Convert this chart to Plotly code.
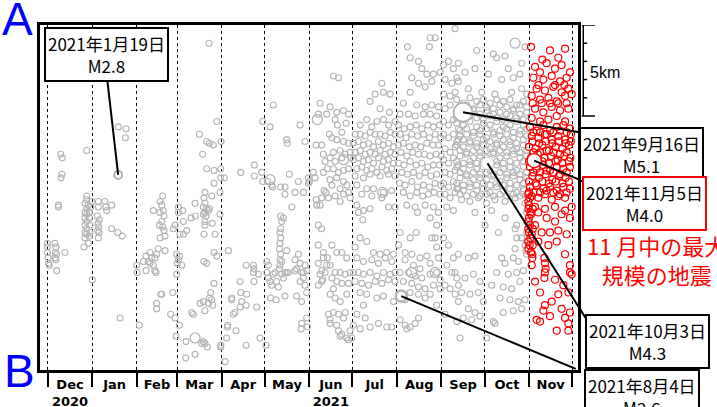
import plotly.graph_objects as go

# x = days since 2020-12-01, y = distance from A along section A-B (km)
month_starts = [0, 31, 62, 90, 121, 151, 182, 212, 243, 274, 304, 335, 365]
month_mids = [15.5, 46.5, 76, 105.5, 136, 166.5, 197, 227.5, 258.5, 289, 319.5, 350]
month_labels = ["Dec<br>2020", "Jan", "Feb", "Mar", "Apr", "May", "Jun<br>2021",
                "Jul", "Aug", "Sep", "Oct", "Nov"]

dec = [(9.0,7.1),(10.1,7.3),(9.9,8.2),(9.2,8.4),(7.4,9.9),(7.4,10.0),(27.1,6.9),
       (-0.3,12.0),(-0.3,12.2),(-0.3,12.5),(0.2,12.8),(0.6,13.1),(1.1,13.2),(5.0,12.0),(5.7,12.2),
       (5.3,12.5),(6.2,12.6),(5.0,12.8),(5.7,12.9),(12.0,12.5),(6.2,13.5),
       (27.1,9.4),(27.1,9.6),(25.9,9.8),(28.2,9.9),(27.1,10.1),(25.9,10.3),(28.9,10.3),(27.1,10.4),
       (25.9,10.6),(28.9,10.6),(27.1,10.8),(25.9,11.0),(29.4,11.0),(27.1,11.2),(25.9,11.4),(29.4,11.4),
       (27.1,11.5),(25.9,11.7),(28.9,11.6),(28.2,12.0),(25.2,12.2),(30.6,9.7),(29.9,10.0),(31.0,14.0)]

jan = [(49.1,5.6),(54.5,5.7),(54.0,6.2),(35.2,9.7),(39.8,9.7),(44.5,9.9),(35.2,10.0),(40.5,10.0),
       (41.0,10.2),(34.5,10.5),(35.9,10.7),(35.0,10.9),(35.4,11.1),(34.7,11.3),(35.7,11.4),(35.2,11.7),
       (44.5,11.2),(48.7,11.4),(51.9,11.6),(50.3,16.1)]

feb = [(73.5,10.2),(78.1,9.7),(80.0,9.4),(79.3,9.9),(80.4,10.2),(78.1,10.3),(80.9,10.5),(79.3,10.8),
       (80.0,11.1),(77.7,11.0),(80.9,11.3),(78.1,11.7),(81.6,11.6),(81.6,12.4),(61.9,13.2),(62.3,13.6),
       (68.4,12.7),(70.0,13.0),(71.2,12.5),(72.3,12.8),(73.5,13.2),(68.4,13.5),(74.6,13.5),(75.8,12.6),
       (76.9,12.3),(74.6,12.8),(71.2,13.1),(66.5,13.0),(75.3,13.6),(78.6,14.8),(79.3,14.8),(75.8,15.3),
       (75.8,15.6),(63.7,16.5),(85.5,15.9),(87.0,14.7)]

mar = [(90.9,10.0),(93.9,10.2),(90.9,10.3),(94.4,10.8),(96.7,11.3),(88.6,11.0),(87.4,11.2),(94.4,11.5),
       (92.0,11.5),(89.7,12.6),(90.9,12.9),(90.2,13.1),(93.2,13.2),(89.7,13.7),(91.6,12.7),(88.6,16.1),
       (91.6,16.5),(89.3,17.1),(96.2,17.4),(96.0,18.3),
       (112.2,1.0),(117.6,5.3),(105.5,6.0),(110.6,6.4),(112.5,6.5),(115.2,6.6),(120.6,6.4),(107.8,7.1),
       (110.6,7.9),(115.7,8.0),(120.3,7.9),(120.3,8.4),(115.7,8.7),(119.9,9.2),(114.1,9.4),(102.5,9.8),
       (99.7,10.6),(102.7,10.5),(109.4,9.2),(108.7,9.5),(109.4,9.8),(108.3,10.0),(110.6,10.1),(109.4,10.3),
       (111.8,10.2),(108.3,10.4),(110.1,10.5),(112.5,10.1),(109.4,10.8),(109.4,11.0),(114.5,10.9),
       (108.7,11.5),(116.4,11.5),(119.9,10.4),(115.7,12.5),(117.6,12.7),(108.7,13.0),(110.6,13.1),
       (115.7,14.2),(113.4,14.7),(112.5,15.0),(114.1,15.1),(114.8,15.4),(111.8,15.3),(109.4,15.7),
       (108.3,15.2),(106.0,15.3),(100.2,15.8),(101.3,15.9),(108.3,17.4),(109.4,17.5),(111.1,17.7),
       (107.1,17.5),(102.5,18.1),(120.4,17.6),(120.4,17.7)]

apr = [(122.9,8.4),(123.4,18.5),(149.6,5.3),(143.8,7.7),(148.9,8.1),(143.8,8.3),(134.3,8.1),(149.6,8.6),
       (138.0,13.2),(143.1,13.2),(143.5,13.4),(143.1,13.6),(146.6,13.7),(143.5,14.1),(133.8,14.1),
       (125.7,12.4),(128.0,15.0),(128.0,15.1),(134.3,14.7),(135.0,15.2),(133.8,15.5),(138.4,14.8),
       (138.0,15.4),(145.4,15.5),(130.3,15.8),(129.2,15.9),(125.2,16.5),(125.0,16.6),(131.0,16.8),
       (124.5,17.2),(138.0,17.6),(147.7,17.2)]

may = [(151.9,17.6),(157.0,4.4),(154.7,5.6),(152.8,8.6),(155.8,8.8),(156.5,8.9),(162.1,8.9),
       (165.1,8.9),(165.1,9.3),(169.8,10.0),(168.1,8.2),(174.4,8.6),(175.6,5.5),(172.1,9.2),(177.9,9.2),
       (179.0,6.4),(181.4,8.4),(181.4,8.7),(166.3,6.3),(166.7,6.5),
       (162.1,10.5),(164.0,10.6),(162.8,10.8),(162.1,11.2),(161.6,11.4),(162.1,11.7),(161.6,12.0),
       (161.2,12.3),(162.1,12.6),(161.6,12.9),(162.8,13.0),(161.6,13.2),(161.2,13.4),(166.3,12.4),
       (152.4,13.0),(153.5,13.2),(152.4,13.6),(153.5,13.9),(154.7,14.1),(157.0,13.7),(158.2,13.6),
       (155.8,14.3),(159.3,14.1),(162.8,13.7),(164.0,13.9),(166.3,13.6),(167.4,13.6),(165.1,13.6),
       (160.5,14.4),(155.1,15.0),(158.9,15.1),(165.1,14.9),
       (172.1,12.9),(174.4,12.6),(175.6,13.1),(176.7,13.6),(172.1,13.5),(173.2,13.4),(177.9,13.6),
       (179.0,13.2),(180.2,13.5),(177.9,13.9),(175.6,14.1),(179.0,14.3),(180.2,14.7),(173.2,14.9),
       (176.7,15.2),(176.7,16.4),(176.3,16.7),(180.2,16.1),(180.7,16.6)]

jun = [(189.5,4.3),(188.3,4.9),(194.1,4.9),(196.0,6.0),(186.7,6.6),(190.6,6.6),(191.8,7.1),
       (193.0,7.5),(194.6,7.9),(196.4,8.5),(184.8,8.1),(186.0,8.4),(182.1,8.6),(191.8,8.1),(190.6,9.5),
       (186.7,9.6),(189.5,9.9),(187.2,9.9),(188.3,11.0),(190.6,11.2),(193.7,9.2),(195.3,9.5),(192.3,9.1),
       (188.3,12.1),(191.8,12.5),(191.8,12.8),(188.3,13.1),(190.6,13.5),(194.1,13.2),(193.0,13.6),
       (189.5,13.7),(191.3,14.0),(188.3,14.3),(190.6,14.1),(194.6,12.8),(195.3,15.9),(196.4,16.2),
       (198.8,2.8),(202.3,2.9),(196.5,4.5),(201.1,4.8),(205.8,4.7),(209.3,4.9),(200.0,5.2),(201.6,5.5),
       (207.6,5.4),(204.6,5.9),
       (197.7,6.2),(201.1,6.3),(205.8,6.4),(209.3,6.5),(198.8,7.0),(203.5,6.9),(207.0,7.1),(210.4,7.0),
       (196.5,7.3),(200.0,7.5),(204.6,7.3),(210.9,7.3),(198.8,7.9),(202.3,8.1),(205.8,8.0),
       (209.3,7.9),(201.1,8.4),(205.8,8.6),(197.7,8.8),(203.5,9.0),(208.1,8.8),(200.0,9.4),(205.8,9.3),
       (209.3,9.2),(203.5,9.7),(210.4,9.5),
       (197.7,12.1),(201.1,12.5),(204.6,12.5),(208.1,12.8),(196.5,13.2),(200.0,13.6),(203.5,13.6),
       (207.0,13.7),(210.4,13.6),(197.7,13.9),(201.1,14.1),(198.8,14.5),(204.6,14.2),(209.3,14.2),
       (196.5,14.8),(200.0,15.0),(203.5,15.2),(208.1,14.8),(198.8,15.8),(202.3,15.9),(207.0,15.8),
       (196.5,16.4),(201.1,16.5),(204.6,17.0),(208.1,17.2),(210.4,16.8),(205.8,16.1),(202.3,16.8),
       (203.5,17.1),(209.3,17.3),(211.6,17.2)]

jul = [(232.5,3.2),(227.8,3.8),(233.6,3.7),(238.3,3.8),(224.3,4.2),(231.3,4.6),(237.8,4.8),(222.0,5.2),
       (229.0,5.3),(233.6,5.2),(217.4,5.5),(225.5,5.6),(237.1,5.5),(241.7,5.3),
       (213.9,6.0),(217.4,6.0),(220.9,6.1),(224.3,5.9),(227.8,6.0),(231.3,6.0),(234.8,6.1),(238.3,5.9),(241.7,6.0),
       (212.7,6.5),(216.2,6.4),(219.7,6.6),(223.2,6.5),(226.7,6.7),(230.1,6.4),(233.6,6.6),(237.1,6.5),(240.6,6.7),
       (213.9,7.0),(217.4,6.9),(220.9,7.1),(224.3,7.0),(227.8,7.1),(231.3,6.9),(234.8,7.1),(238.3,7.0),(241.7,7.1),
       (212.7,7.4),(216.2,7.3),(219.7,7.5),(223.2,7.4),(226.7,7.6),(230.1,7.3),(233.6,7.5),(237.1,7.4),(240.6,7.6),
       (215.1,7.9),(218.5,7.8),(222.0,8.0),(225.5,7.9),(229.0,8.1),(232.5,7.8),(235.9,8.0),(239.4,7.9),
       (213.9,8.3),(219.7,8.4),(224.3,8.2),(231.3,8.3),(237.1,8.2),(241.7,8.3),
       (215.1,8.8),(222.0,9.0),(226.7,9.0),(233.6,9.2),(239.4,9.1),(218.5,9.3),(225.5,9.4),(232.5,9.5),
       (237.1,10.0),(215.1,9.9),(219.7,10.2),(216.2,10.3),(219.2,10.7),(224.3,10.1),(241.7,10.0),
       (217.4,11.7),(222.0,11.9),(213.9,12.2),(226.7,12.5),(231.3,12.6),(235.9,12.5),(240.6,12.6),
       (215.1,12.8),(219.7,13.0),(225.5,12.9),(230.1,13.1),(234.8,12.8),(239.4,13.0),(212.7,13.6),
       (216.2,13.6),(219.7,13.7),(224.3,13.6),(229.0,13.8),(233.6,13.6),(238.3,13.7),(241.7,13.6),
       (213.9,14.1),(218.5,14.2),(223.2,14.3),(227.8,14.1),(232.5,14.2),(237.1,14.0),(241.7,14.1),
       (217.4,14.7),(222.0,14.8),(229.0,15.0),(233.6,14.9),(240.6,15.2),(219.7,15.4),(215.1,15.9),
       (220.9,16.1),(212.7,16.5),(217.4,16.7),(224.3,16.6),(230.1,16.4),(235.9,16.6),(239.4,16.6)]

aug = [(250.3,1.2),(252.2,1.8),(258.0,2.0),(266.1,0.7),(269.6,0.7),(265.6,1.2),(260.3,2.4),(263.8,2.7),
       (268.4,2.7),(273.1,2.6),(253.3,2.9),(258.0,3.2),(262.6,3.4),(267.3,3.1),(252.2,3.7),(247.5,4.3),
       (256.8,4.4),(262.6,4.5),(267.3,4.4),(271.9,4.5),(245.2,4.9),(251.0,4.9),(255.7,5.0),(261.5,4.9),
       (266.1,4.9),(270.7,5.0),
       (244.1,5.5),(248.0,5.7),(252.2,5.6),(256.4,5.5),(260.3,5.7),(264.5,5.5),(268.4,5.6),(272.6,5.5),
       (245.2,6.0),(249.4,6.2),(253.3,6.0),(257.3,6.1),(261.5,6.0),(265.6,6.2),(269.6,6.0),(273.5,6.2),
       (244.1,6.6),(247.5,6.5),(251.7,6.7),(255.7,6.6),(259.6,6.7),(263.8,6.5),(268.0,6.6),(271.9,6.6),
       (245.7,7.0),(249.9,7.2),(254.0,7.0),(258.0,7.1),(262.2,7.1),(266.1,7.2),(270.3,7.1),(273.8,7.2),
       (244.1,7.6),(248.0,7.7),(252.2,7.5),(256.4,7.7),(260.3,7.6),(264.5,7.8),(268.4,7.7),(272.6,7.7),
       (246.4,8.1),(250.3,8.2),(254.5,8.1),(258.7,8.3),(262.6,8.1),(266.6,8.3),(270.7,8.2),
       (244.8,8.7),(248.7,8.8),(253.3,8.6),(257.3,8.9),(261.5,8.8),(265.6,8.9),(269.6,8.7),(273.5,8.8),
       (247.5,9.2),(252.2,9.4),(256.8,9.2),(261.0,9.4),(264.9,9.3),(268.9,9.2),(273.1,9.3),
       (249.9,9.9),(255.7,10.0),(262.6,9.9),(268.4,10.0),(271.9,10.3),(257.3,10.3),(266.1,10.6),
       (270.7,11.0),(267.3,11.7),(256.4,11.4),(252.2,11.7),(245.2,11.4),
       (244.1,12.1),(248.7,12.5),(253.3,12.6),(259.1,12.8),(263.8,12.7),(269.6,11.7),(270.7,12.2),
       (248.7,12.9),(254.5,13.2),(259.1,13.4),(266.1,13.1),(271.9,12.8),(245.2,13.6),(251.0,13.6),
       (255.7,13.8),(260.3,13.9),(266.1,13.7),(270.7,13.6),(273.1,14.0),(247.5,14.1),(253.3,14.2),
       (258.0,14.4),(262.6,14.5),(268.4,14.3),(273.1,14.5),(252.2,14.7),(258.0,14.8),(266.1,14.8),
       (248.7,15.1),(262.6,15.0),(270.7,15.4),(245.2,16.2),(248.7,16.5),(252.2,16.6),(255.7,16.4),
       (258.0,16.1),(249.9,16.7)]

sep_oct = [(275.4,2.2),(278.9,2.0),(282.3,2.4),(285.8,2.1),(276.5,3.0),(281.2,3.2),(284.7,2.9),
       (275.4,3.8),(280.0,3.9),(283.5,3.7),(276.5,4.6),(280.0,4.4),(275.4,5.3),(278.9,5.5),(282.3,5.2),
       (285.8,5.7),(275.4,6.0),(278.9,6.2),(282.3,6.0),(285.8,6.3),(276.5,6.8),(280.0,7.0),(283.5,6.7),
       (275.4,7.4),(278.9,7.6),(282.3,7.3),(285.8,7.7),(276.5,8.1),(280.0,8.2),(283.5,8.0),(275.4,8.7),
       (278.9,8.9),(282.3,8.6),(285.8,9.0),(276.5,9.3),(280.0,9.5),(283.5,9.2),(277.7,10.0),(282.3,10.2),
       (275.4,11.7),(278.9,12.1),(282.3,12.8),(277.7,13.2),(281.2,13.6),(284.7,13.9),(276.5,14.3),
       (280.0,14.5),(283.5,14.8),(285.8,14.3),(276.5,15.9),(284.7,16.3),
       (283.4,0.2),(298.5,1.4),(310.1,1.6),(312.4,1.8),(318.2,1.7),(320.5,2.4),(329.8,2.1),
       (332.1,1.2),(328.6,2.7),(324.0,2.9),(315.9,3.0),(306.6,2.7),(297.3,2.4),(290.4,2.6),(285.7,3.1),
       (292.7,3.5),(302.0,3.7),(311.2,3.8),(322.8,3.7),(329.8,3.5),(333.3,3.8),
       (284.6,4.1),(289.2,4.3),(293.8,4.0),(298.5,4.2),(303.1,4.1),(307.8,4.3),(312.4,4.1),(317.0,4.2),(321.7,4.1),(326.3,4.4),(331.0,4.2),
       (286.9,4.5),(291.5,4.4),(296.2,4.6),(300.8,4.4),(305.4,4.5),(310.1,4.6),(314.7,4.4),(319.4,4.5),(324.0,4.6),(328.6,4.4),(333.3,4.5),
       (286.9,4.8),(291.5,4.9),(296.2,4.7),(300.8,4.9),(305.4,4.7),(310.1,4.9),(314.7,4.8),(319.4,4.9),(324.0,4.7),(328.6,4.9),(333.3,4.8),
       (284.6,5.1),(289.2,5.2),(293.8,5.0),(298.5,5.1),(303.1,5.2),(307.8,5.0),(312.4,5.1),(317.0,5.2),(321.7,5.0),(326.3,5.1),(331.0,5.2),
       (284.6,5.4),(289.2,5.5),(293.8,5.3),(298.5,5.6),(303.1,5.4),(307.8,5.5),(312.4,5.3),(317.0,5.6),(321.7,5.5),(326.3,5.3),(331.0,5.5),
       (286.9,5.8),(291.5,5.7),(296.2,5.9),(300.8,5.8),(305.4,5.7),(310.1,5.9),(314.7,5.8),(319.4,5.7),(324.0,5.9),(328.6,5.8),(333.3,5.7),
       (286.9,6.1),(291.5,6.0),(296.2,6.1),(300.8,6.0),(305.4,6.2),(310.1,6.0),(314.7,6.1),(319.4,6.0),(324.0,6.2),(328.6,6.0),(333.3,6.1),
       (284.6,6.4),(289.2,6.3),(293.8,6.4),(298.5,6.5),(303.1,6.3),(307.8,6.4),(312.4,6.5),(317.0,6.3),(321.7,6.4),(326.3,6.5),(331.0,6.3),
       (284.6,6.6),(289.2,6.7),(293.8,6.5),(298.5,6.7),(303.1,6.6),(307.8,6.8),(312.4,6.6),(317.0,6.7),(321.7,6.6),(326.3,6.8),(331.0,6.6),
       (286.9,6.9),(291.5,7.0),(296.2,6.9),(300.8,7.0),(305.4,6.9),(310.1,7.0),(314.7,6.9),(319.4,7.0),(324.0,6.9),(328.6,7.0),(333.3,6.9),
       (286.9,7.2),(291.5,7.1),(296.2,7.3),(300.8,7.2),(305.4,7.3),(310.1,7.1),(314.7,7.3),(319.4,7.2),(324.0,7.1),(328.6,7.3),(333.3,7.2),
       (284.6,7.5),(289.2,7.6),(293.8,7.5),(298.5,7.6),(303.1,7.5),(307.8,7.6),(312.4,7.5),(317.0,7.6),(321.7,7.5),(326.3,7.6),(331.0,7.5),
       (284.6,7.8),(289.2,7.9),(293.8,7.7),(298.5,7.9),(303.1,7.8),(307.8,8.0),(312.4,7.7),(317.0,7.9),(321.7,7.8),(326.3,8.0),(331.0,7.8),
       (286.9,8.1),(291.5,8.2),(296.2,8.1),(300.8,8.2),(305.4,8.1),(310.1,8.2),(314.7,8.1),(319.4,8.2),(324.0,8.1),(328.6,8.2),(333.3,8.1),
       (286.9,8.4),(291.5,8.3),(296.2,8.5),(300.8,8.4),(305.4,8.5),(310.1,8.3),(314.7,8.6),(319.4,8.4),(324.0,8.3),(328.6,8.5),(333.3,8.4),
       (284.6,8.7),(289.2,8.8),(293.8,8.7),(298.5,8.8),(303.1,8.7),(307.8,8.8),(312.4,8.7),(317.0,8.8),(321.7,8.7),(326.3,8.8),(331.0,8.7),
       (284.6,9.0),(289.2,9.1),(293.8,8.9),(298.5,9.1),(303.1,9.0),(307.8,9.2),(312.4,8.9),(317.0,9.1),(321.7,9.0),(326.3,9.2),(331.0,9.0),
       (286.9,9.3),(291.5,9.4),(296.2,9.3),(300.8,9.4),(305.4,9.3),(310.1,9.4),(314.7,9.3),(319.4,9.4),(324.0,9.3),(328.6,9.4),(333.3,9.3),
       (288.0,9.6),(293.8,9.7),(299.6,9.5),(305.4,9.8),(311.2,9.6),(318.2,9.7),(325.2,9.5),(332.1,9.8),
       (297.3,10.3),(308.9,10.2),(318.2,10.6),(326.3,11.0),(304.3,11.0),(313.6,11.4),(329.8,11.7),
       (285.7,12.6),(292.7,12.8),(297.3,12.7),(283.4,13.6),(290.4,13.9),(296.2,13.7),(300.8,14.1),
       (288.0,14.7),(293.8,14.8),(299.6,14.7),(303.1,15.2),(285.7,15.2),(292.7,15.6),(297.3,15.8),
       (289.2,16.1),(295.0,16.2),(300.8,16.0),(286.9,17.2),(305.4,17.2),(310.1,16.3),(311.2,16.4),
       (315.9,12.8),(318.2,13.1),(324.0,12.8),(327.5,13.0),(312.4,13.6),(320.5,13.7),(326.3,13.6),
       (331.0,13.5),(308.9,14.3),(317.0,14.4),(322.8,14.5),(328.6,14.1),(314.7,15.0),(321.7,15.1),
       (327.5,15.2),(332.1,15.1),(317.0,15.8),(324.0,15.7),(329.8,15.6),(333.3,12.6),(325.2,11.2),
       (326.3,11.7),(325.2,12.3),(332.1,12.1),(333.3,10.3),(333.3,10.8),(333.3,11.4),(333.3,11.9),(332.8,12.4)]

nov = [(336.3,1.2),(349.5,1.4),(355.3,1.8),(360.0,1.3),(344.2,1.9),(339.1,2.3),(342.6,2.6),(347.2,2.1),
       (353.0,2.4),(357.6,2.2),(363.4,2.6),(337.9,2.9),(344.9,3.0),(350.7,2.8),(356.5,3.1),(361.1,2.9),
       (340.2,3.5),(346.0,3.6),(351.8,3.4),(357.6,3.7),(362.3,3.5),(336.8,3.9),(342.6,4.1),(348.4,4.0),
       (354.2,4.2),(360.0,3.9),(364.6,3.8),(339.1,4.6),(344.9,4.8),(350.7,4.5),(356.5,4.7),(362.3,4.6),
       (336.8,5.1),(342.6,5.3),(348.4,5.2),(354.2,5.0),(360.0,5.3),(337.5,4.3),(343.7,4.3),(349.5,4.3),
       (355.3,4.3),(361.1,4.3),(341.4,3.3),(353.0,3.3),(359.5,3.3),
       (335.6,5.6),(340.2,5.8),(344.9,5.5),(349.5,5.8),(354.2,5.6),(358.8,5.5),(363.4,5.7),
       (338.0,5.9),(342.6,5.9),(347.2,6.0),(351.8,5.9),(356.5,5.8),(361.1,5.9),
       (336.8,6.1),(341.4,6.2),(346.0,6.0),(350.7,6.3),(355.3,6.1),(360.0,6.3),(364.1,6.0),
       (337.2,6.4),(341.9,6.5),(346.5,6.4),(351.1,6.5),(355.8,6.4),(360.4,6.5),(364.0,6.4),
       (334.9,6.7),(339.5,6.8),(344.2,6.6),(348.8,6.9),(353.5,6.7),(358.1,6.8),(362.7,6.6),
       (338.0,7.0),(342.6,7.0),(347.2,6.9),(351.8,7.0),(356.5,7.1),(361.1,7.0),
       (336.3,7.3),(340.9,7.1),(345.6,7.3),(350.2,7.2),(354.9,7.4),(359.5,7.2),(363.7,7.3),
       (334.9,7.5),(339.5,7.6),(344.2,7.5),(348.8,7.6),(353.5,7.5),(358.1,7.6),(362.7,7.5),
       (335.6,7.8),(340.2,7.9),(344.9,7.7),(349.5,8.0),(354.2,7.8),(358.8,7.9),(363.4,7.8),
       (338.0,8.1),(342.6,8.1),(347.2,8.0),(351.8,8.1),(356.5,8.2),(361.1,8.1),
       (337.2,8.3),(341.9,8.4),(346.5,8.2),(351.1,8.5),(355.8,8.3),(360.4,8.4),
       (334.9,8.6),(339.5,8.7),(344.2,8.6),(348.8,8.7),(353.5,8.6),(358.1,8.7),(362.7,8.6),
       (335.6,8.9),(340.2,8.8),(344.9,9.0),(349.5,8.9),(354.2,9.1),(358.8,8.9),(363.4,9.0),
       (338.0,9.2),(342.6,9.2),(347.2,9.1),(351.8,9.2),(356.5,9.3),(361.1,9.2),
       (336.8,9.4),(341.4,9.5),(346.0,9.3),(350.7,9.6),(355.3,9.4),(360.0,9.5),
       (339.1,10.0),(346.0,10.1),(353.0,10.0),(360.0,10.2),(364.6,10.0),
       (334.9,9.2),(335.6,9.5),(334.9,9.9),(335.8,10.3),(334.9,10.6),(335.6,11.0),(334.9,11.4),
       (335.8,11.7),(335.4,12.1),(336.3,12.5),(337.2,12.8),(336.8,13.2),(334.4,9.3),(336.3,10.4),
       (336.8,11.5),(337.2,12.6),(334.4,9.7),(334.4,10.1),(334.4,10.8),(334.4,11.2),(334.4,11.9),
       (334.4,12.3),(337.5,12.1),(337.5,11.2),(337.5,10.1),
       (345.6,12.8),(346.0,13.1),(346.5,13.4),(346.0,13.6),(345.6,13.9),
       (341.4,10.3),(347.2,10.6),(353.0,10.8),(357.6,10.4),(363.4,10.6),(339.1,11.0),(343.7,11.4),
       (349.5,11.4),(355.3,11.3),(361.1,11.5),(341.4,11.9),(348.4,12.1),(354.2,11.9),(360.0,12.6),
       (363.4,13.2),(363.4,13.6),(353.0,14.0),(339.1,14.1),(358.8,14.3),(342.6,14.7),(346.0,15.4),
       (344.9,15.7),(350.7,15.2),(355.3,14.8),(362.3,14.7),(357.6,15.6),(363.4,15.8),(360.0,16.1),
       (362.3,16.4),(342.6,16.3),(340.2,16.2),(349.5,16.0),(354.2,16.8),(362.3,16.8),(364.6,13.7)]

medium = [(102.5,17.2),(154.7,8.5),(187.6,5.2),(205.8,7.4),(233.1,9.2),(253.3,13.6),(269.6,13.6),
          (325.2,1.0),(332.1,9.2)]

# highlighted events: day, km, date label, magnitude
hl_jan = (49, 8.24, "2021年1月19日", "M2.8")
hl_sep = (289, 4.8, "2021年9月16日", "M5.1")
hl_nov = (338.5, 7.45, "2021年11月5日", "M4.0")
hl_oct = (306, 7.6, "2021年10月3日", "M4.3")
hl_aug = (246, 14.9, "2021年8月4日", "M2.6")

scale_km = [0, 1, 2, 3, 4, 5]


def unzip(pts):
    return [p[0] for p in pts], [p[1] for p in pts]


GRAY = "#b4b4b4"
gray = dec + jan + feb + mar + apr + may + jun + jul + aug + sep_oct
gx, gy = unzip(gray)
rx, ry = unzip(nov)
mx, my = unzip(medium)

fig = go.Figure()
fig.add_trace(go.Scatter(x=gx, y=gy, mode="markers", hoverinfo="skip",
                         marker=dict(symbol="circle-open", size=6, color=GRAY, line=dict(width=1.1))))
fig.add_trace(go.Scatter(x=mx, y=my, mode="markers", hoverinfo="skip",
                         marker=dict(symbol="circle-open", size=10, color=GRAY, line=dict(width=1.3))))
fig.add_trace(go.Scatter(x=rx, y=ry, mode="markers", hoverinfo="skip",
                         marker=dict(symbol="circle-open", size=7, color="#ff0000", line=dict(width=1.2))))

hl_styles = [(hl_jan, 8, GRAY, 2), (hl_aug, 11, GRAY, 2.5), (hl_oct, 12, "#d0d0d0", 1),
             (hl_nov, 14, "#ff0000", 1.2), (hl_sep, 19, GRAY, 2)]
for ev, sz, lc, lw in hl_styles:
    fig.add_trace(go.Scatter(x=[ev[0]], y=[ev[1]], mode="markers", hoverinfo="skip",
                             marker=dict(symbol="circle", size=sz, color="white",
                                         line=dict(color=lc, width=lw))))

annotations = []
# leader lines (empty text, arrow from box corner to event)
leaders = [(hl_jan, -11, -96), (hl_sep, 117, 20), (hl_nov, 45, 19), (hl_oct, 99, 156), (hl_aug, 175, 73)]
for ev, ax, ay in leaders:
    annotations.append(dict(x=ev[0], y=ev[1], xref="x", yref="y", text="", showarrow=True,
                            arrowhead=0, arrowwidth=2, arrowcolor="black", ax=ax, ay=ay,
                            axref="pixel", ayref="pixel", borderpad=0))

boxes = [(hl_jan, 0.1245, 0.9145, "black"), (hl_sep, 1.118, 0.626, "black"),
         (hl_nov, 1.1236, 0.4826, "#ff0000"), (hl_oct, 1.130, 0.084, "black"),
         (hl_aug, 1.119, -0.078, "black")]
for ev, px, py, bc in boxes:
    annotations.append(dict(xref="paper", yref="paper", x=px, y=py, xanchor="center", yanchor="middle",
                            text=ev[2] + "<br>" + ev[3], showarrow=False, bgcolor="white",
                            bordercolor=bc, borderwidth=2, borderpad=2,
                            font=dict(family="Noto Sans CJK JP", size=17, color="black")))

annotations.append(dict(xref="paper", yref="paper", x=1.1468, y=0.3203, xanchor="center", yanchor="middle",
                        text="11 月中の最大<br>規模の地震", showarrow=False,
                        font=dict(family="Noto Sans CJK JP", size=22, color="#ff0000")))
annotations.append(dict(xref="paper", yref="paper", x=-0.041, y=1.017, xanchor="center", yanchor="middle",
                        text="A", showarrow=False,
                        font=dict(family="Liberation Sans", size=46, color="#0000ff")))
annotations.append(dict(xref="paper", yref="paper", x=-0.039, y=-0.004, xanchor="center", yanchor="middle",
                        text="B", showarrow=False,
                        font=dict(family="Liberation Sans", size=46, color="#0000ff")))
annotations.append(dict(xref="paper", yref="y", x=1.0493, y=scale_km[-1] / 2 + 0.1, xanchor="center",
                        yanchor="middle", text=f"{scale_km[-1]}km", showarrow=False,
                        font=dict(family="Liberation Sans", size=16, color="black")))

# scale bar
shapes = [dict(type="line", xref="paper", yref="y", x0=1.0098, x1=1.0098, y0=scale_km[0], y1=scale_km[-1],
               line=dict(color="black", width=1.5))]
for k in scale_km:
    end = k in (scale_km[0], scale_km[-1])
    shapes.append(dict(type="line", xref="paper", yref="y", x0=1.0069 if end else 1.0098,
                       x1=1.0316 if end else 1.017, y0=k, y1=k, line=dict(color="black", width=1.5)))

fig.update_layout(
    width=717, height=407, margin=dict(l=40, r=139, t=25, b=37, autoexpand=False),
    paper_bgcolor="white", plot_bgcolor="white", showlegend=False,
    annotations=annotations, shapes=shapes,
    xaxis=dict(range=[-5.4, 369.0], showline=True, mirror=True, linewidth=3, linecolor="black",
               zeroline=False, showgrid=False, tickmode="array", tickvals=month_mids,
               ticktext=month_labels, ticks="", ticklabelstandoff=0, automargin=False,
               tickfont=dict(family="DejaVu Sans", size=13, color="black", weight="bold"),
               minor=dict(tickmode="array", tickvals=month_starts, ticks="outside", ticklen=14,
                          tickwidth=1.5, tickcolor="black", showgrid=True, gridcolor="black",
                          griddash="dot", gridwidth=1)),
    yaxis=dict(range=[18.96, 0], showline=True, mirror=True, linewidth=3, linecolor="black",
               zeroline=False, showgrid=False, showticklabels=False, ticks="", automargin=False),
)

fig.write_html("out.html", config={"displayModeBar": False},
               post_script="document.body.style.margin='0';document.body.style.overflow='hidden';")
